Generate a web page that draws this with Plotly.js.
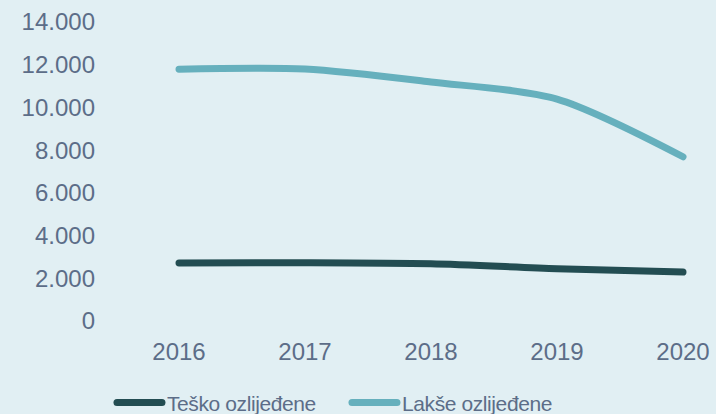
<!DOCTYPE html>
<html>
<head>
<meta charset="utf-8">
<script src="https://cdn.plot.ly/plotly-3.0.1.min.js"></script>
<style>
html, body { margin: 0; padding: 0; background: #e1eff3; }
#chart { width: 716px; height: 414px; }
.scatterlayer .js-line, .legendlines path { stroke-linecap: round; }
.legendtext { letter-spacing: -0.4px; }
</style>
</head>
<body>
<div id="chart"></div>
<script>
const years = ['2016', '2017', '2018', '2019', '2020'];
const teskoOzlijedene = [2720, 2730, 2680, 2450, 2290];
const lakseOzlijedene = [11790, 11800, 11190, 10390, 7690];
const yTickVals = [0, 2000, 4000, 6000, 8000, 10000, 12000, 14000];
const yTickText = ['0', '2.000', '4.000', '6.000', '8.000', '10.000', '12.000', '14.000'];

const textColor = '#5c6d88';
const fontFamily = '"Liberation Sans", Arial, sans-serif';

const traces = [
  {
    x: years, y: teskoOzlijedene, name: 'Teško ozlijeđene',
    type: 'scatter', mode: 'lines',
    line: { color: '#234d52', width: 7, shape: 'spline', smoothing: 0.8 },
    hoverinfo: 'skip'
  },
  {
    x: years, y: lakseOzlijedene, name: 'Lakše ozlijeđene',
    type: 'scatter', mode: 'lines',
    line: { color: '#66b0bd', width: 7, shape: 'spline', smoothing: 0.8 },
    hoverinfo: 'skip'
  }
];

const layout = {
  width: 716, height: 414,
  paper_bgcolor: '#e1eff3', plot_bgcolor: '#e1eff3',
  margin: { l: 116, r: 0, t: 22, b: 93, autoexpand: false },
  font: { family: fontFamily, color: textColor, size: 24 },
  showlegend: true,
  legend: {
    orientation: 'h', x: 0.4846, xanchor: 'center', xref: 'container',
    y: -0.274, yanchor: 'middle', yref: 'paper',
    font: { family: fontFamily, size: 21, color: textColor },
    itemwidth: 45, entrywidth: 175, bgcolor: 'rgba(0,0,0,0)'
  },
  xaxis: {
    type: 'category', range: [-0.5, 4.262], fixedrange: true,
    showgrid: false, zeroline: false, showline: false, ticks: '',
    tickfont: { family: fontFamily, size: 24, color: textColor },
    ticklabelstandoff: 14
  },
  yaxis: {
    range: [0, 14000], fixedrange: true,
    tickvals: yTickVals, ticktext: yTickText,
    showgrid: false, zeroline: false, showline: false, ticks: '',
    tickfont: { family: fontFamily, size: 24, color: textColor },
    ticklabelstandoff: 20
  }
};

Plotly.newPlot('chart', traces, layout, { displayModeBar: false, staticPlot: true });
</script>
</body>
</html>
